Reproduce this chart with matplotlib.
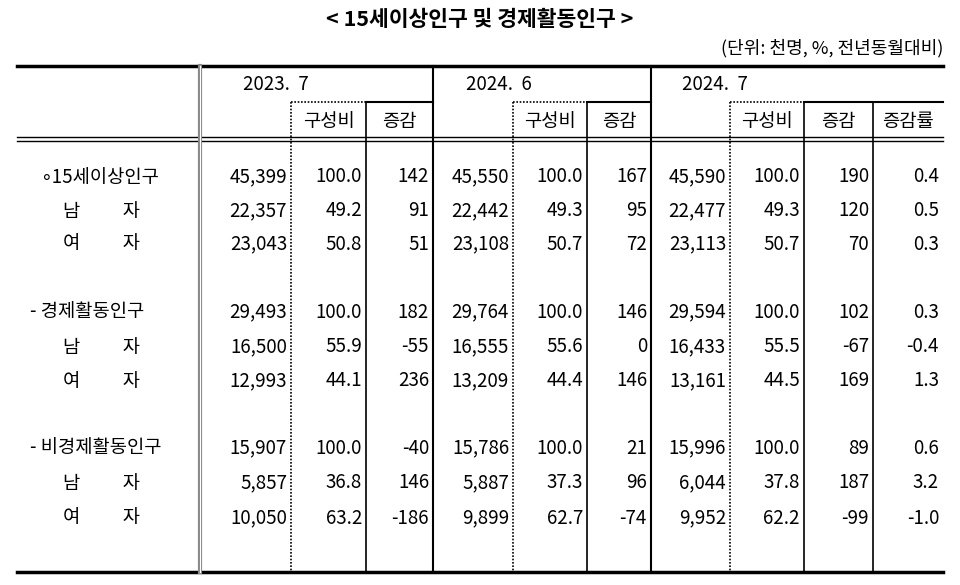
import matplotlib
matplotlib.use("Agg")
import matplotlib.pyplot as plt

plt.rcParams['font.family'] = ['Noto Sans CJK KR', 'DejaVu Sans']

title = "< 15세이상인구 및 경제활동인구 >"
unit = "(단위: 천명, %, 전년동월대비)"
periods = ["2023.  7", "2024.  6", "2024.  7"]
period_x = [243, 466, 682]
sub_cols = ["구성비", "증감", "구성비", "증감", "구성비", "증감", "증감률"]
row_labels = ["∘15세이상인구", "남          자", "여          자",
              "- 경제활동인구", "남          자", "여          자",
              "- 비경제활동인구", "남          자", "여          자"]
label_x = [40, 63, 63, 30, 63, 63, 30, 63, 63]
rows = [
    ["45,399", "100.0", "142", "45,550", "100.0", "167", "45,590", "100.0", "190", "0.4"],
    ["22,357", "49.2", "91", "22,442", "49.3", "95", "22,477", "49.3", "120", "0.5"],
    ["23,043", "50.8", "51", "23,108", "50.7", "72", "23,113", "50.7", "70", "0.3"],
    ["29,493", "100.0", "182", "29,764", "100.0", "146", "29,594", "100.0", "102", "0.3"],
    ["16,500", "55.9", "-55", "16,555", "55.6", "0", "16,433", "55.5", "-67", "-0.4"],
    ["12,993", "44.1", "236", "13,209", "44.4", "146", "13,161", "44.5", "169", "1.3"],
    ["15,907", "100.0", "-40", "15,786", "100.0", "21", "15,996", "100.0", "89", "0.6"],
    ["5,857", "36.8", "146", "5,887", "37.3", "96", "6,044", "37.8", "187", "3.2"],
    ["10,050", "63.2", "-186", "9,899", "62.7", "-74", "9,952", "62.2", "-99", "-1.0"],
]
row_y = [177, 211, 244, 312, 347, 381, 448, 483, 518]

# column boundaries (pixels)
xb = [200, 291, 366, 433, 513, 587, 651, 730, 804, 873, 943]
top, sub, hdr, bot = 66, 102, 139, 572

fig = plt.figure(figsize=(9.6, 5.85), dpi=100)
ax = fig.add_axes([0, 0, 1, 1])
ax.set_xlim(0, 960)
ax.set_ylim(585, 0)
ax.axis("off")

fs = 13.5
ax.text(480, 20, title, ha="center", va="center", fontsize=15.5, fontweight="bold")
ax.text(943, 48, unit, ha="right", va="center", fontsize=13)

# horizontal rules
ax.plot([17, 943], [top, top], color="black", lw=2.5)
ax.plot([17, 943], [hdr - 2, hdr - 2], color="black", lw=1)
ax.plot([17, 943], [hdr + 2, hdr + 2], color="black", lw=1)
ax.plot([17, 943], [bot, bot], color="black", lw=2.5)
for x0, x1, x2 in [(291, 366, 433), (513, 587, 651), (730, 804, 943)]:
    ax.plot([x0, x1], [sub, sub], color="black", lw=1.2, ls=(0, (1, 1)))
    ax.plot([x1, x2], [sub, sub], color="black", lw=1.5)

# vertical rules
ax.plot([200, 200], [top, bot], color="#888888", lw=3)
ax.plot([200, 200], [top, bot], color="white", lw=0.8)
for x in (433, 651):
    ax.plot([x, x], [top, bot], color="black", lw=1.5)
for x in (291, 513, 730):
    ax.plot([x, x], [sub, bot], color="black", lw=1.2, ls=(0, (1, 1)))
for x in (366, 587, 804, 873):
    ax.plot([x, x], [sub, bot], color="black", lw=1.2)

# headers
for p, px in zip(periods, period_x):
    ax.text(px, 84, p, ha="left", va="center", fontsize=fs)
for j, s in enumerate(sub_cols):
    cols = [1, 2, 4, 5, 7, 8, 9][j]
    ax.text((xb[cols] + xb[cols + 1]) / 2, 121, s, ha="center", va="center", fontsize=fs)

# body
for i, (lab, vals) in enumerate(zip(row_labels, rows)):
    y = row_y[i]
    ax.text(label_x[i], y, lab, ha="left", va="center", fontsize=fs)
    for j, v in enumerate(vals):
        ax.text(xb[j + 1] - 4, y, v, ha="right", va="center", fontsize=fs)

fig.savefig("out.png", dpi=100)
